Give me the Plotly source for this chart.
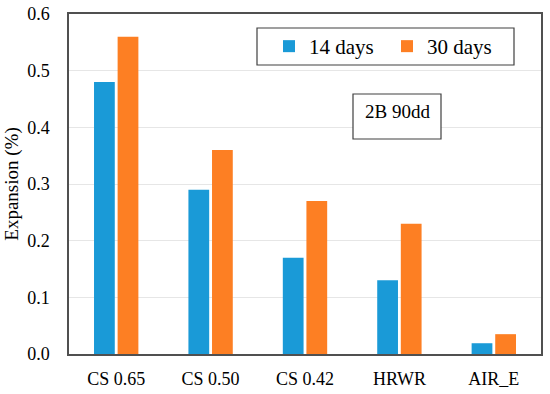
import plotly.graph_objects as go

categories = ["CS 0.65", "CS 0.50", "CS 0.42", "HRWR", "AIR_E"]
days14 = [0.48, 0.29, 0.17, 0.13, 0.019]
days30 = [0.56, 0.36, 0.27, 0.23, 0.035]
y_ticks = [0.0, 0.1, 0.2, 0.3, 0.4, 0.5, 0.6]
y_tick_labels = ["0.0", "0.1", "0.2", "0.3", "0.4", "0.5", "0.6"]

FONT = "Liberation Serif, Times New Roman, serif"
L, R, T, B = 69, 541, 14, 354  # plot area in px


def px_x(x):
    return (x - L) / (R - L)


def px_y(y):
    return (B - y) / (B - T)


fig = go.Figure()
fig.add_trace(go.Bar(x=categories, y=days14, name="14 days",
                     marker=dict(color="#1a9ad7", line=dict(width=0))))
fig.add_trace(go.Bar(x=categories, y=days30, name="30 days",
                     marker=dict(color="#fd7f23", line=dict(width=0))))

fig.update_layout(
    width=550, height=394,
    margin=dict(l=L, r=550 - R, t=T, b=394 - B, autoexpand=False),
    paper_bgcolor="white", plot_bgcolor="white",
    barmode="group", bargap=0.5, bargroupgap=0.12,
    font=dict(family=FONT, color="black", size=18),
    showlegend=True,
    legend=dict(orientation="h", x=px_x(269), y=px_y(46.5),
                xanchor="left", yanchor="middle",
                borderwidth=0, bgcolor="rgba(0,0,0,0)",
                font=dict(family=FONT, size=21, color="black"),
                itemwidth=30, entrywidth=73),
    xaxis=dict(showline=True, linecolor="#505050", linewidth=1.5, mirror=True,
               automargin=False, ticklabelstandoff=8,
               ticks="", tickfont=dict(size=18, family=FONT, color="black"), showgrid=False),
    yaxis=dict(range=[0, 0.6], tickvals=y_ticks, ticktext=y_tick_labels,
               automargin=False, ticklabelstandoff=14,
               showline=True, linecolor="#505050", linewidth=1.5, mirror=True,
               showgrid=True, gridcolor="#e6e6e6", gridwidth=1,
               ticks="", tickfont=dict(size=18, family=FONT, color="black"),
               title=dict(text="Expansion (%)", font=dict(size=19, family=FONT, color="black"),
                          standoff=4)),
    shapes=[
        dict(type="rect", xref="paper", yref="paper",
             x0=px_x(257), x1=px_x(514), y0=px_y(65), y1=px_y(28),
             line=dict(color="#404040", width=1.2), fillcolor="white", layer="above"),
        dict(type="rect", xref="paper", yref="paper",
             x0=px_x(353), x1=px_x(441), y0=px_y(139), y1=px_y(94),
             line=dict(color="#404040", width=1.2), fillcolor="white", layer="above"),
    ],
    annotations=[dict(text="2B 90dd", xref="paper", yref="paper",
                      x=px_x(397), y=px_y(112), xanchor="center", yanchor="middle",
                      showarrow=False, font=dict(size=19, family=FONT, color="black"))],
)

fig.write_html("out.html", config={"displayModeBar": False},
               post_script="document.body.style.margin='0';document.body.style.overflow='hidden';")
